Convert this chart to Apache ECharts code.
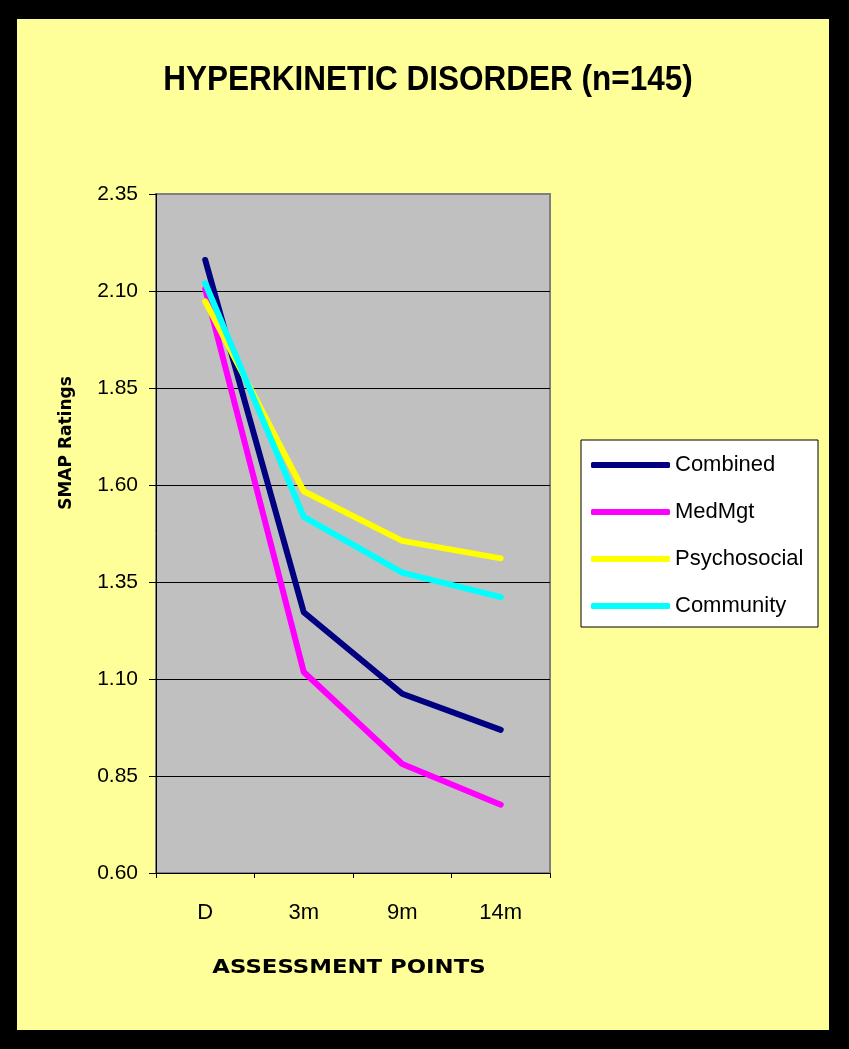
<!DOCTYPE html>
<html>
<head>
<meta charset="utf-8">
<script src="https://cdn.jsdelivr.net/npm/echarts@6/dist/echarts.min.js"></script>
<style>
  html, body { margin: 0; padding: 0; background: #000; }
  #chart { width: 849px; height: 1049px; }
</style>
</head>
<body>
<div id="chart"></div>
<script>
const categories = ['D', '3m', '9m', '14m'];
const combined = [2.18, 1.272, 1.062, 0.969];
const medMgt = [2.105, 1.118, 0.881, 0.776];
const psychosocial = [2.073, 1.584, 1.456, 1.411];
const community = [2.12, 1.518, 1.374, 1.311];
const yTicks = { min: 0.60, max: 2.35, interval: 0.25 };

const chart = echarts.init(document.getElementById('chart'), null, { renderer: 'canvas' });

function line(name, data, color, z) {
  return {
    name: name, type: 'line', data: data, symbol: 'none', z: z,
    lineStyle: { color: color, width: 6, cap: 'round', join: 'round' },
    itemStyle: { color: color }
  };
}

chart.setOption({
  backgroundColor: '#000000',
  animation: false,
  graphic: [
    { type: 'rect', z: -10, shape: { x: 17, y: 19, width: 812, height: 1011 }, style: { fill: '#FFFF99' }, silent: true },
    { type: 'rect', z: 1, shape: { x: 581, y: 440, width: 237, height: 187 }, style: { fill: '#FFFFFF', stroke: '#000', lineWidth: 1 }, silent: true },
    { type: 'text', z: 5, x: 428, y: 80, scaleX: 0.9,
      style: { text: 'HYPERKINETIC DISORDER (n=145)', fontFamily: '"Liberation Sans", Arial, sans-serif', fontWeight: 'bold', fontSize: 35, fill: '#000', align: 'center', verticalAlign: 'middle' } },
    { type: 'text', z: 5, x: 67, y: 443, rotation: Math.PI / 2,
      style: { text: 'SMAP Ratings', fontFamily: '"DejaVu Sans", sans-serif', fontWeight: 'bold', fontSize: 17, fill: '#000', align: 'center', verticalAlign: 'middle' } },
    { type: 'text', z: 5, x: 349, y: 968, scaleX: 1.2,
      style: { text: 'ASSESSMENT POINTS', fontFamily: '"DejaVu Sans", sans-serif', fontWeight: 'bold', fontSize: 19, fill: '#000', align: 'center', verticalAlign: 'middle' } }
  ],
  legend: {
    orient: 'vertical', left: 591, top: 454, z: 10, padding: 0,
    itemWidth: 79, itemHeight: 6, itemGap: 25, icon: 'roundRect',
    textStyle: { fontFamily: 'Arial, "Liberation Sans", sans-serif', fontSize: 22, color: '#000', lineHeight: 22, padding: [0, 0, 0, 0] },
    data: ['Combined', 'MedMgt', 'Psychosocial', 'Community']
  },
  grid: {
    left: 156, top: 194, right: 299, bottom: 176,
    show: true, backgroundColor: '#C0C0C0', borderColor: '#808080', borderWidth: 2
  },
  xAxis: {
    type: 'category', data: categories, boundaryGap: true,
    axisLine: { lineStyle: { color: '#000', width: 1 } },
    axisTick: { show: true, length: 5, lineStyle: { color: '#000' } },
    axisLabel: { margin: 29, color: '#000', fontSize: 22, fontFamily: 'Arial, "Liberation Sans", sans-serif' },
    splitLine: { show: false }
  },
  yAxis: {
    type: 'value', min: yTicks.min, max: yTicks.max, interval: yTicks.interval,
    axisLine: { show: true, lineStyle: { color: '#000', width: 1 } },
    axisTick: { show: true, length: 7, lineStyle: { color: '#000' } },
    axisLabel: { margin: 18, color: '#000', fontSize: 21, fontFamily: 'Arial, "Liberation Sans", sans-serif',
      formatter: function (v) { return v.toFixed(2); } },
    splitLine: { show: true, showMinLine: false, showMaxLine: false, lineStyle: { color: '#000', width: 1 } }
  },
  series: [
    line('Combined', combined, '#000080', 4),
    line('MedMgt', medMgt, '#FF00FF', 3),
    line('Psychosocial', psychosocial, '#FFFF00', 5),
    line('Community', community, '#00FFFF', 6)
  ]
});
</script>
</body>
</html>
